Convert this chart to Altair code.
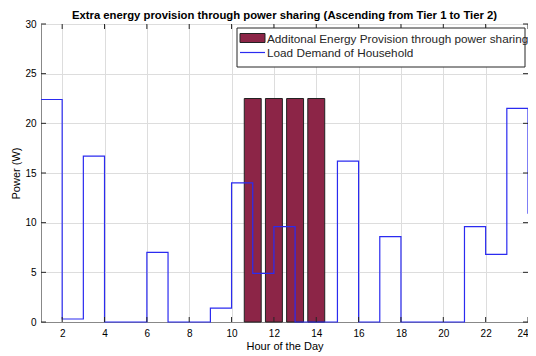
import altair as alt
import pandas as pd

# ---- data ----
hours = list(range(1, 25))
load_demand = [22.4, 0.3, 16.7, 0, 0, 7.0, 0, 0, 1.4, 14.0, 4.9, 9.6,
               0, 0, 16.2, 0, 8.6, 0, 0, 0, 9.6, 6.8, 21.5, 10.9]
bar_hours = [11, 12, 13, 14]
bar_power = [22.5, 22.5, 22.5, 22.5]
x_ticks = list(range(2, 25, 2))
y_ticks = list(range(0, 31, 5))
legend_labels = ["Additonal Energy Provision through power sharing",
                 "Load Demand of Household"]
title_text = "Extra energy provision through power sharing (Ascending from Tier 1 to Tier 2)"

BAR_HALF = 0.4
W, H = 487, 298
FONT = "Liberation Sans"
DARK = "#262626"
BAR_FILL = "#8C2547"
LINE_BLUE = "#2B2BF0"

line_df = pd.DataFrame({"hour": hours, "power": load_demand})
bar_df = pd.DataFrame({"hour": bar_hours, "power": bar_power})
bar_df["x0"] = bar_df["hour"] - BAR_HALF
bar_df["x1"] = bar_df["hour"] + BAR_HALF
bar_df["y0"] = 0

xscale = alt.Scale(domain=[1, 24], nice=False, zero=False)
yscale = alt.Scale(domain=[0, 30], nice=False)

xaxis = alt.Axis(values=x_ticks, title="Hour of the Day", grid=True, ticks=False,
                 labelPadding=6, titlePadding=2, titleFontWeight="normal")
yaxis = alt.Axis(values=y_ticks, title="Power (W)", grid=True, ticks=False,
                 labelPadding=5, titlePadding=3, titleFontWeight="normal")

bars = alt.Chart(bar_df).mark_rect(fill=BAR_FILL, stroke="#222222", strokeWidth=1).encode(
    x=alt.X("x0:Q", scale=xscale, axis=xaxis),
    x2="x1:Q",
    y=alt.Y("y0:Q", scale=yscale, axis=yaxis),
    y2="power:Q",
)

line = alt.Chart(line_df).mark_line(interpolate="step-after", color=LINE_BLUE,
                                    strokeWidth=1.2).encode(
    x=alt.X("hour:Q", scale=xscale),
    y=alt.Y("power:Q", scale=yscale),
)

# inward tick marks (MATLAB style box axes)
xt = pd.DataFrame({"v": x_ticks})
yt = pd.DataFrame({"v": y_ticks})
tick_style = dict(color=DARK, strokeWidth=1)
xb = alt.Chart(xt).mark_rule(**tick_style).encode(
    x=alt.X("v:Q", scale=xscale), y=alt.value(H), y2=alt.value(H - 5))
xtp = alt.Chart(xt).mark_rule(**tick_style).encode(
    x=alt.X("v:Q", scale=xscale), y=alt.value(0), y2=alt.value(5))
yl = alt.Chart(yt).mark_rule(**tick_style).encode(
    y=alt.Y("v:Q", scale=yscale), x=alt.value(0), x2=alt.value(5))
yr = alt.Chart(yt).mark_rule(**tick_style).encode(
    y=alt.Y("v:Q", scale=yscale), x=alt.value(W), x2=alt.value(W - 5))

# legend box (drawn in pixel space of the plot)
one = pd.DataFrame({"a": [0]})
lx0, lx1, ly0, ly1 = 196, 484, 4, 43
leg_box = alt.Chart(one).mark_rect(fill="white", stroke=DARK, strokeWidth=1).encode(
    x=alt.value(lx0), x2=alt.value(lx1), y=alt.value(ly0), y2=alt.value(ly1))
leg_swatch = alt.Chart(one).mark_rect(fill=BAR_FILL, stroke="#222222", strokeWidth=1).encode(
    x=alt.value(lx0 + 3), x2=alt.value(lx0 + 28), y=alt.value(9.5), y2=alt.value(18.5))
leg_line = alt.Chart(one).mark_rule(color=LINE_BLUE, strokeWidth=1.2).encode(
    x=alt.value(lx0 + 3), x2=alt.value(lx0 + 28), y=alt.value(28.5))
leg_t1 = alt.Chart(one).mark_text(text=legend_labels[0], align="left", baseline="middle",
                                  font=FONT, fontSize=11.75, color=DARK).encode(
    x=alt.value(lx0 + 30), y=alt.value(14.5))
leg_t2 = alt.Chart(one).mark_text(text=legend_labels[1], align="left", baseline="middle",
                                  font=FONT, fontSize=11.75, color=DARK).encode(
    x=alt.value(lx0 + 30), y=alt.value(28.5))

chart = alt.layer(
    bars, line, xb, xtp, yl, yr,
    leg_box, leg_swatch, leg_line, leg_t1, leg_t2,
).properties(
    width=W, height=H,
    title=alt.TitleParams(title_text, font=FONT, fontSize=11.3, fontWeight="bold",
                          color="#000000", anchor="middle", offset=-2.5),
    autosize=alt.AutoSizeParams(type="none"),
    padding={"left": 33, "top": 16, "right": 0, "bottom": 33},
).configure_view(
    stroke=DARK, strokeWidth=1
).configure_axis(
    labelFont=FONT, titleFont=FONT, labelFontSize=11, titleFontSize=11.5,
    labelColor="#4D4D4D", titleColor="#4D4D4D", titleFontWeight="normal",
    domainColor=DARK, gridColor="#DCDCDC", gridWidth=1,
).configure(background="white")

chart.save("out.html", embed_options={"renderer": "svg", "actions": False})
